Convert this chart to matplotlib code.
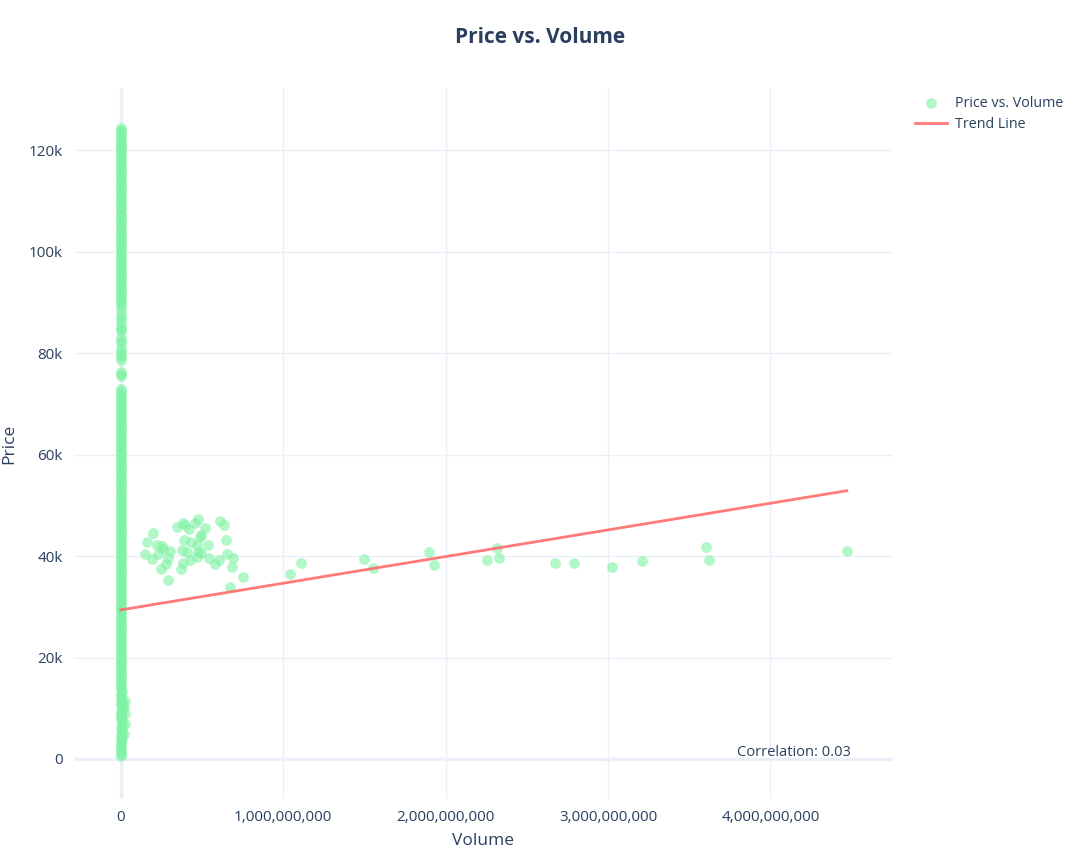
import matplotlib
matplotlib.use('Agg')
from matplotlib import pyplot as plt
from matplotlib.ticker import FuncFormatter, FixedLocator

plt.rcParams['font.family'] = ['Open Sans', 'DejaVu Sans']

# Low-volume days: the vertical column at volume ~0 (price in thousands, volume in millions)
column_price_k = [124.5, 123.6, 122.9, 121.8, 121.0, 120.2, 119.5, 118.6, 117.9, 116.8,
                  115.9, 115.1, 114.0, 113.2, 112.3, 111.5, 110.4, 109.6, 108.7, 107.5,
                  106.8, 105.9, 104.8, 104.0, 103.1, 102.2, 101.3, 100.5, 99.4, 98.6,
                  97.7, 96.8, 95.9, 95.1, 94.2, 93.3, 92.4, 91.6, 90.7, 89.9,
                  88.6, 87.5, 86.2, 85.1, 84.3, 83.0, 82.1, 80.8, 79.6, 78.7,
                  76.3, 75.6, 72.9, 72.0, 71.2, 70.3, 69.4, 68.5, 67.7, 66.8,
                  65.9, 65.0, 64.1, 63.3, 62.4, 61.5, 60.6, 59.7, 58.9, 58.0,
                  57.1, 56.2, 55.3, 54.5, 53.6, 52.4, 51.5, 50.7, 49.8, 48.9,
                  48.0, 47.2, 46.3, 45.4, 44.5, 43.6, 42.8, 41.9, 41.0, 40.1,
                  39.2, 38.4, 37.5, 36.6, 35.7, 34.8, 34.0, 33.1, 32.2, 31.3,
                  30.4, 29.6, 28.7, 27.8, 26.9, 26.0, 25.2, 24.3, 23.4, 22.5,
                  21.6, 20.8, 19.9, 19.0, 18.1, 17.2, 16.4, 15.5, 14.6, 13.7,
                  12.8, 12.0, 11.1, 10.2, 9.3, 8.4, 7.6, 6.7, 5.8, 4.9,
                  4.0, 3.2, 2.3, 1.4, 0.5]
column_volume_m = [0.1, 0.1, 0.2, 0.1, 0.2, 0.3, 0.2, 0.1, 0.2, 0.3,
                   0.2, 0.1, 0.3, 0.2, 0.2, 0.4, 0.3, 0.2, 0.3, 0.4,
                   0.3, 0.2, 0.4, 0.3, 0.5, 0.4, 0.3, 0.5, 0.4, 0.3,
                   0.5, 0.6, 0.4, 0.5, 0.6, 0.5, 0.4, 0.6, 0.7, 0.5,
                   0.6, 0.7, 0.5, 0.8, 0.6, 0.7, 0.9, 0.8, 0.7, 0.9,
                   1.0, 0.8, 1.1, 0.9, 1.2, 1.0, 1.1, 1.3, 1.2, 1.0,
                   1.4, 1.2, 1.3, 1.5, 1.1, 1.4, 1.6, 1.3, 1.5, 1.7,
                   1.4, 1.6, 1.8, 1.5, 1.7, 1.9, 1.6, 1.8, 2.0, 1.7,
                   1.9, 2.1, 1.8, 2.0, 2.2, 1.9, 2.1, 2.3, 2.0, 2.2,
                   2.4, 2.1, 2.3, 2.5, 2.2, 2.4, 2.6, 2.3, 2.5, 2.7,
                   2.4, 2.6, 2.8, 2.5, 2.7, 2.9, 2.6, 2.8, 3.0, 2.7,
                   2.9, 3.1, 2.8, 3.0, 3.2, 2.9, 3.1, 3.3, 3.0, 3.4,
                   3.6, 3.2, 3.5, 3.8, 3.3, 3.9, 3.4, 3.7, 4.0, 3.5,
                   3.8, 3.2, 3.6, 3.1, 3.4]

# more low-volume days filling the dense stretches of the column
column2_price_k = [124.1, 123.2, 122.4, 121.4, 120.6, 119.8, 119.0, 118.2, 117.3, 116.4,
                   115.5, 114.6, 113.6, 112.8, 111.9, 111.0, 110.0, 109.1, 108.2, 107.1,
                   106.3, 105.4, 104.4, 103.6, 102.7, 101.8, 100.9, 100.0, 99.0, 98.1,
                   97.2, 96.4, 95.5, 94.6, 93.8, 92.9, 92.0, 91.1, 90.3, 89.4,
                   87.0, 84.7, 82.5, 80.3, 79.2, 75.9, 72.5, 71.6, 70.7, 69.9,
                   69.0, 68.1, 67.2, 66.3, 65.5, 64.6, 63.7, 62.8, 61.9, 61.1,
                   60.2, 59.3, 58.4, 57.6, 56.7, 55.8, 54.9, 54.0, 53.0, 52.0,
                   51.1, 50.2, 49.3, 48.5, 47.6, 46.7, 45.8, 45.0, 44.1, 43.2,
                   42.3, 41.4, 40.6, 39.7, 38.8, 37.9, 37.0, 36.2, 35.3, 34.4,
                   33.5, 32.6, 31.8, 30.9, 30.0, 29.1, 28.2, 27.4, 26.5, 25.6,
                   24.7, 23.8, 23.0, 22.1, 21.2, 20.3, 19.4, 18.6, 17.7, 16.8,
                   15.9, 15.0, 14.2, 13.3, 12.4, 11.5, 10.6, 9.8, 8.9, 8.0,
                   7.1, 6.2, 5.4, 4.5, 3.6, 2.7, 1.9, 1.0]
column2_volume_m = [0.2, 0.1, 0.3, 0.2, 0.1, 0.2, 0.4, 0.3, 0.2, 0.1,
                    0.3, 0.4, 0.2, 0.3, 0.5, 0.2, 0.4, 0.3, 0.5, 0.4,
                    0.2, 0.5, 0.3, 0.6, 0.4, 0.5, 0.7, 0.4, 0.6, 0.5,
                    0.7, 0.4, 0.6, 0.8, 0.5, 0.7, 0.6, 0.8, 0.5, 0.7,
                    0.8, 0.6, 0.9, 0.7, 1.0, 0.9, 1.0, 1.2, 0.9, 1.1,
                    1.3, 1.0, 1.2, 1.4, 1.1, 1.3, 1.5, 1.2, 1.4, 1.6,
                    1.3, 1.5, 1.7, 1.4, 1.6, 1.8, 1.5, 1.7, 1.9, 1.6,
                    1.8, 2.0, 1.7, 1.9, 2.1, 1.8, 2.0, 2.2, 1.9, 2.1,
                    2.3, 2.0, 2.2, 2.4, 2.1, 2.3, 2.5, 2.2, 2.4, 2.6,
                    2.3, 2.5, 2.7, 2.4, 2.6, 2.8, 2.5, 2.7, 2.9, 2.6,
                    2.8, 3.0, 2.7, 2.9, 3.1, 2.8, 3.0, 3.2, 2.9, 3.3,
                    3.1, 3.5, 3.2, 3.7, 3.4, 3.9, 3.5, 3.8, 3.3, 3.6,
                    4.0, 3.4, 3.7, 3.2, 3.5, 3.0, 3.3, 3.1]

# a few early days with slightly larger volume near the bottom of the column
early_price_k = [11.4, 10.3, 8.8, 6.9, 5.0]
early_volume_m = [26.0, 22.0, 28.0, 24.0, 20.0]

# cluster of mid-volume days (volume in billions, price in thousands)
cluster_volume_b = [0.195, 0.162, 0.148, 0.193, 0.220, 0.251, 0.260, 0.230, 0.302, 0.288,
                    0.277, 0.246, 0.288, 0.343, 0.384, 0.394, 0.421, 0.456, 0.476, 0.517,
                    0.491, 0.486, 0.388, 0.431, 0.466, 0.534, 0.377, 0.408, 0.476, 0.493,
                    0.466, 0.425, 0.384, 0.368, 0.542, 0.579, 0.605, 0.610, 0.634, 0.647,
                    0.651, 0.692, 0.682, 0.753, 0.671]
cluster_price_k = [44.5, 42.7, 40.4, 39.4, 42.2, 41.9, 41.4, 40.4, 41.1, 39.6,
                   38.5, 37.5, 35.3, 45.7, 46.6, 46.2, 45.3, 46.6, 47.3, 45.5,
                   44.2, 43.8, 43.2, 42.7, 42.2, 42.2, 41.2, 40.9, 40.9, 40.6,
                   39.9, 39.3, 38.6, 37.5, 39.6, 38.5, 39.3, 47.0, 46.2, 43.1,
                   40.4, 39.6, 37.9, 35.8, 33.9]

# high-volume days
high_volume_b = [1.041, 1.108, 1.496, 1.552, 1.897, 1.927, 2.254, 2.315, 2.328, 2.672,
                 2.789, 3.023, 3.208, 3.602, 3.621, 4.470]
high_price_k = [36.5, 38.7, 39.4, 37.7, 40.8, 38.3, 39.3, 41.6, 39.6, 38.7,
                38.7, 37.9, 39.1, 41.8, 39.3, 41.0]

# trend line end points
trend_volume = [0, 4.47e9]
trend_price = [29400, 52900]

correlation = 0.03

# Combine into single series (volume in units, price in dollars)
volume = ([v * 1e6 for v in column_volume_m] + [v * 1e6 for v in column2_volume_m]
          + [v * 1e6 for v in early_volume_m]
          + [v * 1e9 for v in cluster_volume_b] + [v * 1e9 for v in high_volume_b])
price = ([p * 1e3 for p in column_price_k] + [p * 1e3 for p in column2_price_k]
         + [p * 1e3 for p in early_price_k]
         + [p * 1e3 for p in cluster_price_k] + [p * 1e3 for p in high_price_k])

text_color = '#2a3f5f'
grid_color = '#ebf0f8'

fig = plt.figure(figsize=(10.8, 8.64), dpi=100)
ax = fig.add_axes([0.0685, 0.0752, 0.7583, 0.8229])

ax.scatter(volume, price, s=60, color='#7ff2a4', alpha=0.6, linewidths=0,
           label='Price vs. Volume', zorder=3)
ax.plot(trend_volume, trend_price, color='#ff6b6b', linewidth=2, alpha=0.9,
        label='Trend Line', zorder=4)

ax.set_xlim(-0.289e9, 4.754e9)
ax.set_ylim(-7900, 132300)

ax.xaxis.set_major_locator(FixedLocator([0, 1e9, 2e9, 3e9, 4e9]))
ax.yaxis.set_major_locator(FixedLocator([0, 20000, 40000, 60000, 80000, 100000, 120000]))
ax.xaxis.set_major_formatter(FuncFormatter(lambda x, pos: f'{int(x):,}'))
ax.yaxis.set_major_formatter(FuncFormatter(lambda y, pos: '0' if y == 0 else f'{int(y / 1000)}k'))

ax.grid(True, color=grid_color, linewidth=1, zorder=0)
ax.axhline(0, color=grid_color, linewidth=2.5, zorder=1)
ax.axvline(0, color=grid_color, linewidth=2.5, zorder=1)
ax.set_axisbelow(True)
for side in ['top', 'right', 'left', 'bottom']:
    ax.spines[side].set_visible(False)
ax.tick_params(axis='both', length=0, colors=text_color, labelsize=11, pad=8)

ax.set_xlabel('Volume', color=text_color, fontsize=12.5, labelpad=6)
ax.set_ylabel('Price', color=text_color, fontsize=12.5, labelpad=8)

fig.text(0.5, 0.957, 'Price vs. Volume', ha='center', va='center',
         color=text_color, fontsize=15, fontweight='bold')

ax.text(0.949, 0.065, f'Correlation: {correlation:.2f}', transform=ax.transAxes,
        ha='right', va='center', color=text_color, fontsize=10.5)

leg = ax.legend(loc='upper left', bbox_to_anchor=(1.015, 1.003), frameon=False,
                fontsize=10.3, labelcolor=text_color, handlelength=2.2, handletextpad=0.6,
                borderaxespad=0.3, labelspacing=0.4)

fig.savefig('out.png', dpi=100, facecolor='white')
